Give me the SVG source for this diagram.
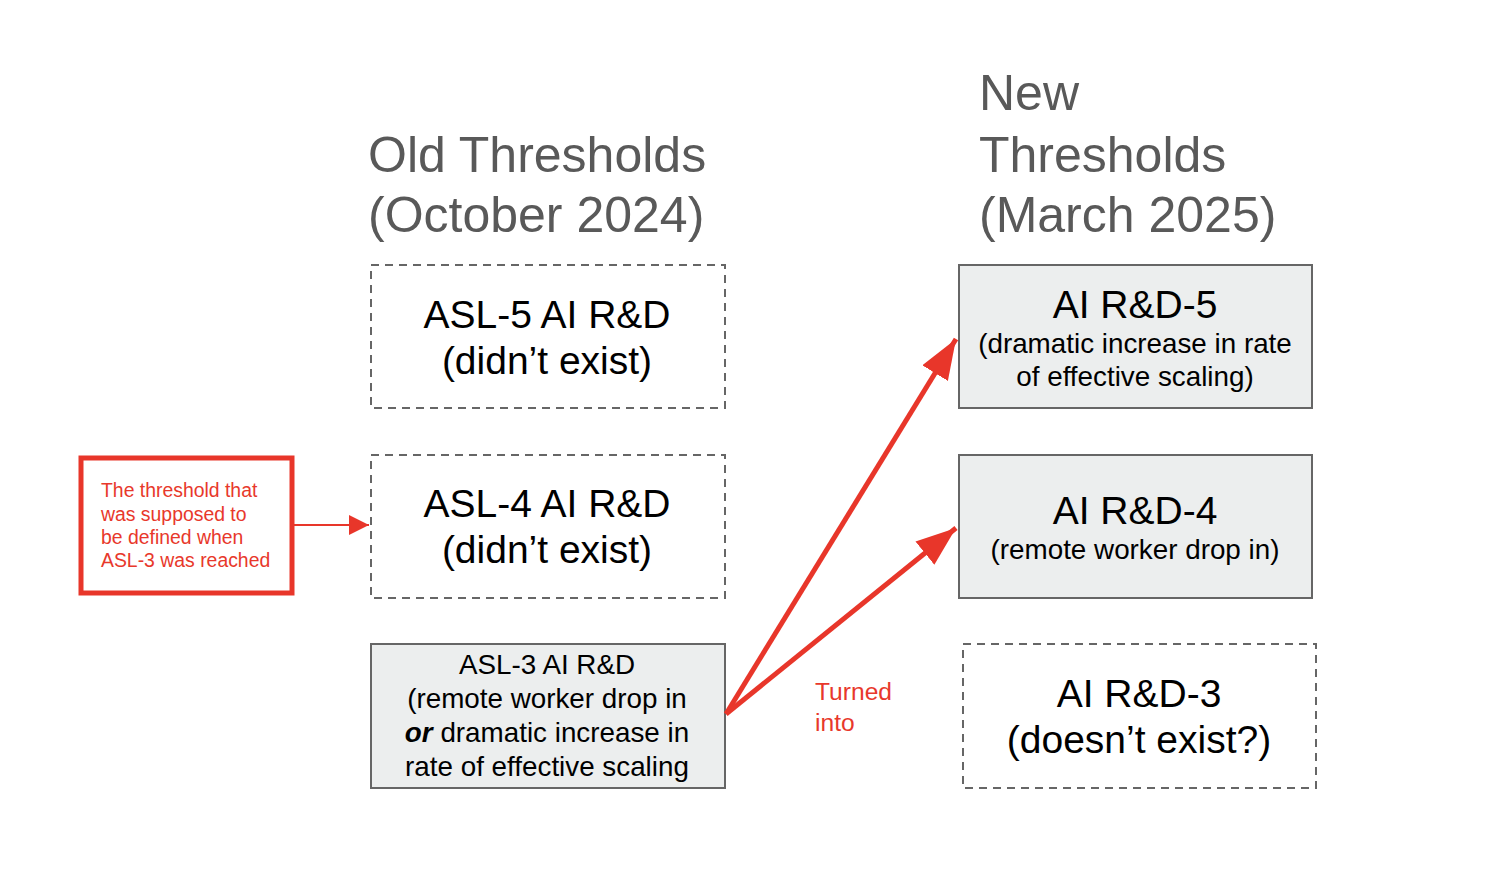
<svg xmlns="http://www.w3.org/2000/svg" width="1486" height="880" viewBox="0 0 1486 880">
<style>
text{font-family:"Liberation Sans",Arial,sans-serif}
.title{font-size:50px;fill:#595959}
.big{font-size:39px;fill:#000;text-anchor:middle}
.med{font-size:27.8px;fill:#000;text-anchor:middle}
.red{font-size:19.4px;fill:#e8382b}
.dash{fill:#fff;stroke:#666;stroke-width:2;stroke-dasharray:8 6}
.solid{fill:#eceeee;stroke:#666;stroke-width:2}
</style>
<defs>
<marker id="ah" viewBox="0 0 8 6" refX="8" refY="3" markerWidth="8" markerHeight="6" markerUnits="strokeWidth" orient="auto"><path d="M0,0 L8,3 L0,6 z" fill="#e8362a"/></marker>
<marker id="ahs" viewBox="0 0 10 10" refX="10" refY="5" markerWidth="10" markerHeight="10" markerUnits="strokeWidth" orient="auto"><path d="M0,0 L10,5 L0,10 z" fill="#e8362a"/></marker>
</defs>
<rect width="1486" height="880" fill="#fff"/>
<g id="titles">
<text class="title" x="368" y="172">Old Thresholds</text>
<text class="title" x="368" y="232">(October 2024)</text>
<text class="title" x="979" y="110">New</text>
<text class="title" x="979" y="172">Thresholds</text>
<text class="title" x="979" y="232">(March 2025)</text>
</g>
<g id="asl5"><rect class="dash" x="371" y="265" width="354" height="143"/>
<text class="big" x="547" y="328">ASL-5 AI R&amp;D</text><text class="big" x="547" y="374">(didn’t exist)</text></g>
<g id="asl4"><rect class="dash" x="371" y="455" width="354" height="143"/>
<text class="big" x="547" y="517">ASL-4 AI R&amp;D</text><text class="big" x="547" y="563">(didn’t exist)</text></g>
<g id="asl3"><rect class="solid" x="371" y="644" width="354" height="144"/>
<text class="med" x="547" y="674">ASL-3 AI R&amp;D</text>
<text class="med" x="547" y="708">(remote worker drop in</text>
<text class="med" x="547" y="742"><tspan font-weight="bold" font-style="italic">or</tspan> dramatic increase in</text>
<text class="med" x="547" y="776">rate of effective scaling</text></g>
<g id="rd5"><rect class="solid" x="959" y="265" width="353" height="143"/>
<text class="big" x="1135" y="318">AI R&amp;D-5</text>
<text class="med" x="1135" y="353">(dramatic increase in rate</text>
<text class="med" x="1135" y="386">of effective scaling)</text></g>
<g id="rd4"><rect class="solid" x="959" y="455" width="353" height="143"/>
<text class="big" x="1135" y="524">AI R&amp;D-4</text>
<text class="med" x="1135" y="559">(remote worker drop in)</text></g>
<g id="rd3"><rect class="dash" x="963" y="644" width="353" height="144"/>
<text class="big" x="1139" y="707">AI R&amp;D-3</text>
<text class="big" x="1139" y="753">(doesn’t exist?)</text></g>
<g id="note"><rect x="81" y="458" width="211" height="135" fill="#fff" stroke="#e8362a" stroke-width="5"/>
<text class="red" x="101" y="497">The threshold that</text>
<text class="red" x="101" y="521">was supposed to</text>
<text class="red" x="101" y="544">be defined when</text>
<text class="red" x="101" y="567">ASL-3 was reached</text></g>
<g id="label"><text x="815" y="700" font-size="24.6" fill="#e8382b">Turned</text><text x="815" y="731" font-size="24.6" fill="#e8382b">into</text></g>
<g id="connectors" fill="none" stroke="#e8362a">
<line x1="294" y1="525" x2="369" y2="525" stroke-width="2" marker-end="url(#ahs)"/>
<line x1="726" y1="714" x2="956" y2="339" stroke-width="5" marker-end="url(#ah)"/>
<line x1="726" y1="714" x2="956" y2="528" stroke-width="5" marker-end="url(#ah)"/>
</g>
</svg>
